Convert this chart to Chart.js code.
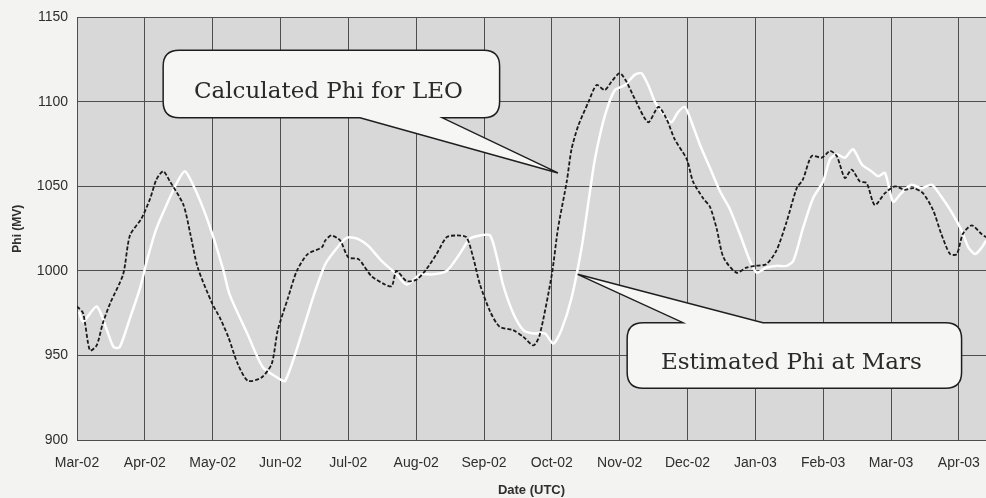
<!DOCTYPE html>
<html>
<head>
<meta charset="utf-8">
<script src="https://cdn.jsdelivr.net/npm/chart.js@4"></script>
<style>
  html, body { margin: 0; padding: 0; background: #f3f3f1; }
  canvas { display: block; }
</style>
</head>
<body>
<canvas id="chart" width="986" height="498"></canvas>
<script>
// month tick labels, x values are months since Mar-02
const monthLabels = ['Mar-02', 'Apr-02', 'May-02', 'Jun-02', 'Jul-02', 'Aug-02', 'Sep-02',
  'Oct-02', 'Nov-02', 'Dec-02', 'Jan-03', 'Feb-03', 'Mar-03', 'Apr-03'];

// Calculated Phi for LEO (dashed black)
const leoMonth = [0.00, 0.09, 0.19, 0.29, 0.38, 0.49, 0.68, 0.78, 0.95, 1.08, 1.17, 1.27, 1.37, 1.57,
  1.67, 1.78, 1.99, 2.11, 2.23, 2.37, 2.52, 2.72, 2.87, 2.96, 3.11, 3.24, 3.40, 3.61, 3.66, 3.75,
  3.88, 4.00, 4.15, 4.34, 4.54, 4.64, 4.71, 4.86, 5.01, 5.15, 5.30, 5.45, 5.60, 5.74, 5.84, 5.94,
  6.09, 6.23, 6.43, 6.58, 6.73, 6.82, 7.00, 7.09, 7.22, 7.29, 7.39, 7.54, 7.66, 7.78, 7.88, 8.00,
  8.10, 8.22, 8.42, 8.57, 8.69, 8.81, 8.99, 9.08, 9.23, 9.33, 9.43, 9.53, 9.72, 9.87, 9.99, 10.16,
  10.31, 10.46, 10.61, 10.70, 10.83, 10.98, 11.10, 11.20, 11.32, 11.42, 11.54, 11.64, 11.76, 11.91,
  12.06, 12.20, 12.33, 12.47, 12.62, 12.74, 12.87, 12.97, 13.06, 13.19, 13.33, 13.40];
const leoPhi = [979, 975, 953, 956, 969, 981, 998, 1021, 1031, 1043, 1054, 1059, 1053, 1039,
  1022, 1002, 981, 972, 961, 945, 935, 937, 945, 965, 984, 1000, 1010, 1014, 1018, 1021,
  1018, 1008, 1007, 997, 992, 991, 1000, 994, 995, 1001, 1010, 1020, 1021, 1020, 1008, 992,
  976, 967, 965, 961, 956, 962, 998, 1025, 1053, 1072, 1086, 1100, 1110, 1107, 1112, 1117,
  1112, 1102, 1088, 1097, 1090, 1078, 1066, 1053, 1043, 1038, 1025, 1008, 999, 1002, 1003, 1004,
  1012, 1029, 1049, 1054, 1068, 1067, 1071, 1068, 1055, 1060, 1053, 1052, 1039, 1046,
  1050, 1048, 1049, 1046, 1036, 1022, 1010, 1010, 1022, 1027, 1022, 1020];

// Estimated Phi at Mars (white)
const marsMonth = [0.03, 0.09, 0.29, 0.44, 0.54, 0.63, 0.78, 0.93, 1.03, 1.17, 1.32, 1.47, 1.59, 1.71,
  1.86, 2.01, 2.16, 2.25, 2.51, 2.74, 2.95, 3.07, 3.36, 3.51, 3.66, 3.80, 3.95, 4.02, 4.14, 4.29,
  4.49, 4.71, 4.86, 5.06, 5.25, 5.45, 5.64, 5.79, 5.94, 6.09, 6.19, 6.28, 6.43, 6.58, 6.73, 6.90,
  7.02, 7.14, 7.29, 7.44, 7.54, 7.63, 7.73, 7.83, 7.93, 8.08, 8.22, 8.32, 8.42, 8.52, 8.62, 8.76,
  8.86, 8.96, 9.06, 9.18, 9.33, 9.48, 9.62, 9.77, 9.92, 10.02, 10.16, 10.31, 10.46, 10.56, 10.70,
  10.85, 11.00, 11.10, 11.20, 11.32, 11.44, 11.57, 11.71, 11.81, 11.91, 12.03, 12.15, 12.30, 12.45,
  12.60, 12.74, 12.89, 13.04, 13.14, 13.24, 13.34, 13.40];
const marsPhi = [976, 970, 979, 965, 955, 955, 972, 990, 1006, 1025, 1039, 1052, 1059, 1051,
  1037, 1020, 1000, 986, 963, 943, 937, 935, 969, 988, 1004, 1012, 1019, 1020, 1019, 1015,
  1006, 998, 992, 998, 998, 1000, 1010, 1019, 1021, 1021, 1008, 992, 975, 965, 963, 963,
  957, 965, 984, 1014, 1041, 1065, 1084, 1098, 1107, 1110, 1116, 1117, 1110, 1100, 1094, 1088,
  1094, 1097, 1088, 1075, 1061, 1047, 1037, 1022, 1006, 999, 1002, 1003, 1003, 1006, 1025,
  1043, 1053, 1066, 1069, 1067, 1072, 1063, 1059, 1056, 1058, 1041, 1046, 1051, 1049,
  1051, 1044, 1035, 1024, 1014, 1010, 1014, 1018];

const toPoints = (xs, ys) => xs.map((x, i) => ({ x: x, y: ys[i] }));

// callout boxes, placed in data units
const callouts = [
  { text: 'Calculated Phi for LEO', x0: 1.27, x1: 6.23, y0: 1130.6, y1: 1090.6,
    tipX: 7.09, tipY: 1058, side: 'bottom', base: [0.585, 0.83] },
  { text: 'Estimated Phi at Mars', x0: 8.11, x1: 13.04, y0: 969.4, y1: 930.6,
    tipX: 7.38, tipY: 998, side: 'top', base: [0.167, 0.406] }
];

const plotBackground = {
  id: 'plotBackground',
  beforeDraw(chart) {
    const { ctx, chartArea: a } = chart;
    ctx.save();
    ctx.fillStyle = '#d8d8d8';
    ctx.fillRect(a.left, a.top, a.right - a.left, a.bottom - a.top);
    ctx.restore();
  }
};

const calloutPlugin = {
  id: 'calloutPlugin',
  afterDatasetsDraw(chart) {
    const { ctx, scales: { x, y } } = chart;
    ctx.save();
    callouts.forEach(c => {
      const l = x.getPixelForValue(c.x0), r = x.getPixelForValue(c.x1);
      const t = y.getPixelForValue(c.y0), b = y.getPixelForValue(c.y1);
      const tx = x.getPixelForValue(c.tipX), ty = y.getPixelForValue(c.tipY);
      const b1 = l + (r - l) * c.base[0], b2 = l + (r - l) * c.base[1];
      const rad = 16;
      ctx.beginPath();
      ctx.moveTo(l + rad, t);
      if (c.side === 'top') {
        ctx.lineTo(b1, t);
        ctx.lineTo(tx, ty);
        ctx.lineTo(b2, t);
      }
      ctx.lineTo(r - rad, t);
      ctx.quadraticCurveTo(r, t, r, t + rad);
      ctx.lineTo(r, b - rad);
      ctx.quadraticCurveTo(r, b, r - rad, b);
      if (c.side === 'bottom') {
        ctx.lineTo(b2, b);
        ctx.lineTo(tx, ty);
        ctx.lineTo(b1, b);
      }
      ctx.lineTo(l + rad, b);
      ctx.quadraticCurveTo(l, b, l, b - rad);
      ctx.lineTo(l, t + rad);
      ctx.quadraticCurveTo(l, t, l + rad, t);
      ctx.closePath();
      ctx.fillStyle = '#f6f6f5';
      ctx.fill();
      ctx.lineWidth = 1.5;
      ctx.strokeStyle = '#1e1e1e';
      ctx.stroke();

      ctx.fillStyle = '#2a2a2a';
      ctx.font = '23px "DejaVu Serif"';
      ctx.textAlign = 'center';
      ctx.textBaseline = 'alphabetic';
      ctx.fillText(c.text, (l + r) / 2 - 3, (t + b) / 2 + 13.5);
    });
    ctx.restore();
  }
};

new Chart(document.getElementById('chart'), {
  type: 'line',
  data: {
    datasets: [
      {
        label: 'Calculated Phi for LEO',
        data: toPoints(leoMonth, leoPhi),
        borderColor: '#1a1a1a',
        borderWidth: 1.8,
        borderDash: [4, 2],
        pointRadius: 0,
        tension: 0.25,
        fill: false
      },
      {
        label: 'Estimated Phi at Mars',
        data: toPoints(marsMonth, marsPhi),
        borderColor: '#ffffff',
        borderWidth: 2.5,
        pointRadius: 0,
        tension: 0.25,
        fill: false
      }
    ]
  },
  options: {
    responsive: false,
    animation: false,
    devicePixelRatio: 1,
    layout: { padding: { top: 15, right: 0, left: 0, bottom: 0 } },
    plugins: {
      legend: { display: false },
      tooltip: { enabled: false }
    },
    scales: {
      x: {
        type: 'linear',
        min: 0,
        max: 13.4,
        afterFit(scale) {
          scale.height = 58;
          scale.paddingRight = 0;
        },
        grid: { color: '#4e4e4e', lineWidth: 1, drawTicks: false },
        border: { color: '#4e4e4e', width: 1 },
        ticks: {
          stepSize: 1,
          includeBounds: false,
          autoSkip: false,
          maxRotation: 0,
          padding: 15,
          color: '#2e2e2e',
          font: { family: '"Liberation Sans", Arial, sans-serif', size: 14 },
          callback: v => monthLabels[v]
        },
        title: {
          display: true,
          text: 'Date (UTC)',
          color: '#2e2e2e',
          font: { family: '"Liberation Sans", Arial, sans-serif', size: 13, weight: 'bold' },
          padding: { top: 0, bottom: 0 }
        }
      },
      y: {
        min: 900,
        max: 1150,
        afterFit(scale) { scale.width = 77; },
        grid: { color: '#4e4e4e', lineWidth: 1, drawTicks: false },
        border: { color: '#4e4e4e', width: 1 },
        ticks: {
          stepSize: 50,
          padding: 9,
          color: '#2e2e2e',
          font: { family: '"Liberation Sans", Arial, sans-serif', size: 14 },
          callback: v => String(v)
        },
        title: {
          display: true,
          text: 'Phi (MV)',
          color: '#2e2e2e',
          font: { family: '"Liberation Sans", Arial, sans-serif', size: 12, weight: 'bold' },
          padding: { top: 10, bottom: 0 }
        }
      }
    }
  },
  plugins: [plotBackground, calloutPlugin]
});
</script>
</body>
</html>
